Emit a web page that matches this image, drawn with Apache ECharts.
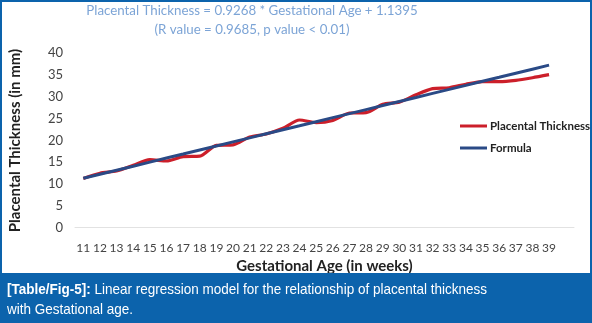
<!DOCTYPE html>
<html>
<head>
<meta charset="utf-8">
<script src="https://cdn.jsdelivr.net/npm/echarts@6/dist/echarts.min.js"></script>
<style>
html,body{margin:0;padding:0;background:#fff;}
#c{width:592px;height:323px;}
</style>
</head>
<body>
<div id="c"></div>
<script>
const weeks = [11,12,13,14,15,16,17,18,19,20,21,22,23,24,25,26,27,28,29,30,31,32,33,34,35,36,37,38,39];
const placentalThickness = [11.3,12.5,13.0,14.3,15.6,15.3,16.3,16.4,18.9,19.0,20.8,21.5,22.8,24.7,24.1,24.6,26.3,26.4,28.3,28.8,30.5,31.9,32.1,32.9,33.5,33.5,33.8,34.4,35.1];
const formula = [11.33,12.26,13.19,14.11,15.04,15.97,16.89,17.82,18.75,19.68,20.60,21.53,22.46,23.38,24.31,25.24,26.16,27.09,28.02,28.95,29.87,30.80,31.73,32.65,33.58,34.50,35.43,36.36,37.28];
const yTicks = [0,5,10,15,20,25,30,35,40];
const seriesNames = ['Placental Thickness','Formula'];
const titleLines = ['Placental Thickness = 0.9268 * Gestational Age + 1.1395','(R value = 0.9685, p value < 0.01)'];
const yTitle = 'Placental Thickness (in mm)';
const xTitle = 'Gestational Age (in weeks)';
const captionBold = '[Table/Fig-5]:';
const captionRest = ' Linear regression model for the relationship of placental thickness';
const captionLine2 = 'with Gestational age.';

const chart = echarts.init(document.getElementById('c'), null, {renderer:'canvas'});
const F = 'Lato, "Open Sans", sans-serif';
const CF = '"Liberation Sans", Arial, sans-serif';
const BLUE = '#0c63ac';
chart.setOption({
  animation:false,
  backgroundColor:'#fff',
  legend:{
    orient:'vertical', left:455, top:115, itemGap:10,
    itemWidth:27, itemHeight:3, icon:'rect',
    textStyle:{fontFamily:F, fontSize:11.5, color:'#222', fontWeight:'bold', padding:[0,0,0,-2]},
    data: seriesNames
  },
  grid:{left:72, right:18, top:53.3, bottom:95.3, containLabel:false},
  xAxis:{
    type:'category', data: weeks.map(String).concat(['']), boundaryGap:true,
    axisLine:{show:true, lineStyle:{color:'#e2e2e2', width:1}},
    axisTick:{show:false},
    axisLabel:{interval:0, margin:14, fontFamily:F, fontSize:12, color:'#444'},
    name: xTitle, nameLocation:'middle', nameGap:30,
    nameTextStyle:{fontFamily:F, fontSize:15, fontWeight:'bold', color:'#222'}
  },
  yAxis:{
    type:'value', min: yTicks[0], max: yTicks[yTicks.length-1], interval: yTicks[1]-yTicks[0],
    axisLine:{show:false}, axisTick:{show:false}, splitLine:{show:false},
    axisLabel:{margin:12, fontFamily:F, fontSize:13, color:'#444'},
    name: yTitle, nameLocation:'middle', nameGap:52, nameRotate:90,
    nameTextStyle:{fontFamily:F, fontSize:15, fontWeight:'bold', color:'#222'}
  },
  series:[
    {name:seriesNames[0], type:'line', data: placentalThickness, smooth:0.25, symbol:'none',
     lineStyle:{color:'#cc1f2a', width:3.2}, itemStyle:{color:'#cc1f2a'}, z:2},
    {name:seriesNames[1], type:'line', data: formula, symbol:'none',
     lineStyle:{color:'#2a4a86', width:3}, itemStyle:{color:'#2a4a86'}, z:3}
  ],
  graphic:[
    {type:'text', x:252, y:1, scaleX:0.95, z:50, style:{
      text: titleLines.join('\n'), align:'center', verticalAlign:'top',
      fontFamily:F, fontSize:14, lineHeight:19, fill:'#7ca4d6'
    }},
    {type:'rect', shape:{x:0, y:273, width:592, height:50}, style:{fill:BLUE}, z:100},
    {type:'rect', shape:{x:1, y:1, width:590, height:321}, style:{fill:'none', stroke:BLUE, lineWidth:2}, z:101},
    {type:'text', x:7, y:280, scaleX:0.9, z:102, style:{
      text:'{b|'+captionBold+'}{r|'+captionRest+'}\n{r|'+captionLine2+'}',
      rich:{
        b:{fontFamily:CF, fontSize:15, fontWeight:'bold', fill:'#fff', lineHeight:20},
        r:{fontFamily:CF, fontSize:15, fill:'#fff', lineHeight:20}
      }
    }}
  ]
});
</script>
</body>
</html>
